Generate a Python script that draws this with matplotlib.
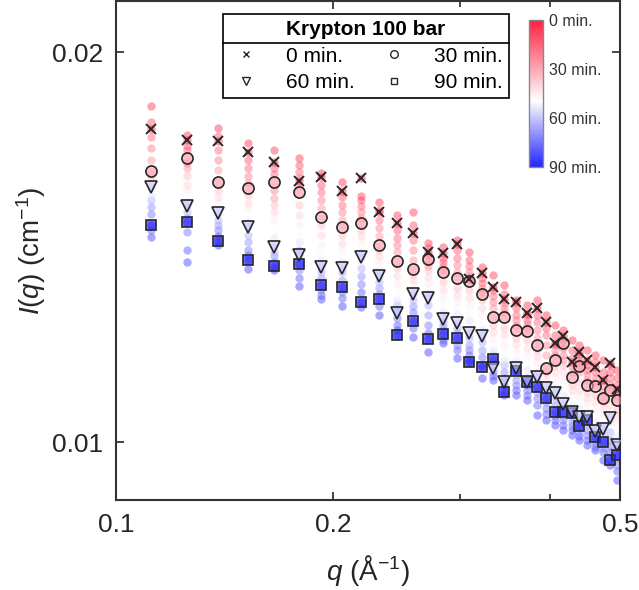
import numpy as np
import matplotlib
matplotlib.use('Agg')
import matplotlib.pyplot as plt
from matplotlib.colors import LinearSegmentedColormap, Normalize
from matplotlib.lines import Line2D
from matplotlib.ticker import FixedLocator, FixedFormatter, NullFormatter, NullLocator

plt.rcParams['font.family'] = 'Liberation Sans'
plt.rcParams['mathtext.fontset'] = 'custom'
plt.rcParams['mathtext.rm'] = 'Liberation Sans'
plt.rcParams['mathtext.it'] = 'Liberation Sans:italic'

#==========================================================
# data (I in units of 1e-4 cm^-1)
#==========================================================
q = [0.1117, 0.1253, 0.1385, 0.1523, 0.1656, 0.1794, 0.1925, 0.2058,
     0.2187, 0.2316, 0.2451, 0.2579, 0.2706, 0.2838, 0.2968, 0.3090,
     0.3215, 0.3336, 0.3456, 0.3584, 0.3712, 0.3832, 0.3944, 0.4063,
     0.4168, 0.4286, 0.4391, 0.4504, 0.4617, 0.4736, 0.4843, 0.4948]

i_0min = [174.4, 171.0, 170.7, 167.4, 164.5, 159.0, 160.2, 156.2, 159.9, 150.5, 147.6,
          145.0, 140.2, 139.9, 142.2, 133.6, 135.1, 131.7, 129.0, 128.3, 125.8, 126.9,
          123.8, 119.3, 120.8, 115.3, 117.4, 115.7, 114.3, 111.7, 115.1, 109.9]
i_30min = [161.9, 165.7, 158.8, 157.1, 158.8, 156.0, 149.2, 146.6, 147.6, 142.0, 138.0,
           136.0, 138.5, 135.3, 133.9, 133.2, 130.1, 124.9, 124.9, 122.1, 121.8, 118.9,
           114.1, 115.7, 119.3, 112.3, 114.5, 110.7, 110.5, 108.2, 109.7, 107.8]
i_60min = [157.3, 152.1, 150.2, 146.6, 141.4, 139.5, 136.5, 136.3, 139.0, 134.3, 125.8,
           130.1, 129.2, 124.5, 123.6, 121.4, 120.8, 114.1, 111.3, 114.1, 111.3, 112.3,
           110.1, 109.1, 107.0, 105.5, 104.6, 104.6, 102.0, 102.4, 104.4, 99.5]
i_90min = [147.1, 147.9, 143.0, 138.2, 136.8, 137.2, 132.2, 131.7, 128.3, 129.0, 121.0,
           124.0, 120.1, 121.2, 120.3, 115.3, 114.3, 115.9, 109.3, 113.5, 111.3, 110.3,
           108.2, 105.5, 105.5, 105.3, 102.9, 104.0, 100.9, 100.0, 96.9, 97.8]

# the other time steps (faded dots)
t_mid = [5, 10, 15, 20, 25, 35, 40, 45, 50, 55, 65, 70, 75, 80, 85]
i_mid = [
    [181.7, 172.6, 174.7, 170.1, 168.0, 165.7, 161.3, 158.8, 154.9, 153.2, 149.7, 150.5, 142.5, 141.4, 143.2, 140.2,
     136.5, 134.6, 132.2, 128.7, 127.6, 128.7, 125.4, 123.2, 122.1, 119.9, 118.9, 117.8, 116.8, 115.7, 114.7, 113.7],
    [176.6, 169.2, 172.3, 165.1, 162.8, 163.6, 157.9, 154.6, 153.8, 151.1, 145.8, 147.1, 141.2, 138.7, 140.7, 138.2,
     133.9, 131.1, 130.1, 126.9, 125.4, 125.4, 122.5, 121.0, 119.9, 117.8, 116.8, 114.7, 115.3, 113.3, 113.3, 112.1],
    [172.0, 168.0, 168.0, 162.8, 161.0, 161.6, 156.0, 152.4, 152.1, 148.4, 143.7, 143.2, 139.5, 137.7, 138.7, 136.8,
     132.7, 129.7, 128.1, 125.4, 124.3, 123.8, 121.0, 118.9, 118.2, 116.1, 115.7, 113.7, 113.3, 111.7, 112.1, 110.7],
    [168.6, 164.2, 165.1, 160.5, 156.5, 159.9, 153.8, 150.5, 150.5, 146.3, 142.0, 140.7, 137.7, 136.8, 137.0, 135.3,
     131.5, 128.3, 126.9, 124.3, 123.4, 122.1, 118.9, 117.8, 116.8, 114.5, 114.7, 112.7, 112.1, 110.5, 110.9, 109.3],
    [165.1, 162.8, 162.2, 158.5, 154.3, 157.6, 151.6, 148.4, 148.9, 144.2, 140.2, 138.2, 136.8, 135.8, 135.3, 134.3,
     130.6, 126.9, 126.0, 123.2, 122.5, 120.3, 116.8, 116.8, 115.7, 113.3, 113.3, 111.7, 111.3, 109.3, 110.1, 108.6],
    [160.7, 160.5, 156.5, 155.1, 152.4, 152.4, 147.1, 144.5, 145.8, 140.7, 136.3, 134.6, 135.8, 132.9, 131.5, 131.1,
     128.7, 123.2, 122.5, 120.3, 119.9, 117.8, 113.3, 114.5, 114.7, 110.7, 111.3, 109.3, 108.8, 107.4, 108.2, 105.9],
    [159.6, 157.9, 154.6, 153.0, 150.5, 149.7, 144.5, 142.5, 144.2, 139.2, 134.3, 133.4, 134.1, 131.1, 129.9, 129.2,
     126.9, 121.6, 121.0, 119.1, 118.2, 116.6, 112.5, 113.3, 113.3, 109.7, 109.7, 108.2, 107.4, 106.3, 106.8, 104.8],
    [158.5, 156.5, 153.0, 151.6, 148.4, 147.1, 142.0, 140.7, 142.7, 137.7, 132.4, 132.4, 132.7, 129.2, 128.3, 127.4,
     125.4, 120.3, 118.9, 117.8, 116.8, 115.3, 111.7, 112.1, 111.7, 108.8, 108.6, 107.2, 105.9, 105.1, 105.9, 103.7],
    [156.5, 154.6, 151.6, 149.7, 145.8, 144.5, 140.2, 139.5, 141.2, 136.8, 130.6, 131.5, 131.5, 127.6, 126.9, 125.6,
     123.8, 119.1, 117.4, 116.8, 115.3, 114.5, 111.1, 111.1, 110.1, 107.8, 107.4, 106.3, 104.8, 104.0, 105.0, 102.2],
    [154.9, 153.2, 151.1, 147.9, 143.7, 142.7, 138.2, 137.7, 140.2, 135.8, 128.7, 130.8, 130.6, 126.0, 125.6, 124.3,
     122.1, 117.8, 115.7, 115.7, 113.7, 113.3, 110.7, 110.1, 108.8, 106.8, 106.3, 105.5, 103.7, 103.1, 103.7, 101.1],
    [153.8, 150.5, 148.4, 144.5, 140.2, 140.7, 135.3, 135.3, 136.3, 132.9, 127.6, 128.7, 127.6, 123.8, 122.5, 120.3,
     119.5, 116.8, 114.7, 112.7, 112.1, 111.3, 109.3, 108.2, 106.3, 104.4, 104.0, 103.1, 102.6, 101.3, 101.8, 99.0],
    [151.9, 148.9, 147.1, 142.7, 139.2, 137.7, 133.9, 133.4, 134.3, 131.5, 126.5, 127.4, 125.4, 122.9, 121.4, 118.9,
     117.8, 114.9, 113.3, 111.7, 110.5, 109.3, 107.4, 106.8, 104.8, 103.7, 102.6, 102.2, 100.4, 100.4, 100.4, 97.2],
    [150.0, 145.3, 145.8, 140.7, 137.7, 135.8, 131.1, 130.6, 132.4, 130.1, 124.7, 126.0, 123.2, 122.1, 118.9, 117.8,
     116.4, 113.3, 112.1, 110.7, 109.7, 108.2, 106.3, 104.8, 104.0, 102.9, 101.8, 101.3, 99.9, 99.0, 99.3, 96.0],
    [145.8, 140.7, 144.2, 139.5, 136.3, 133.9, 129.9, 129.2, 130.6, 127.4, 123.2, 122.5, 121.4, 119.9, 117.8, 116.8,
     114.7, 112.5, 110.5, 109.7, 108.8, 106.8, 105.1, 104.0, 103.1, 102.2, 101.1, 100.4, 99.2, 98.3, 98.3, 94.9],
    [144.0, 137.7, 142.0, 136.0, 135.8, 132.0, 129.0, 127.4, 127.2, 125.4, 122.1, 120.6, 117.4, 119.3, 116.1, 115.7,
     112.1, 111.7, 108.8, 108.8, 107.8, 105.0, 104.0, 103.1, 102.2, 101.3, 100.4, 99.5, 98.6, 96.9, 96.0, 93.5],
]

marker_times = [0, 30, 60, 90]
marker_labels = ['0 min.', '30 min.', '60 min.', '90 min.']
cbar_labels = ['0 min.', '30 min.', '60 min.', '90 min.']
leg_title = 'Krypton 100 bar'

#==========================================================
# plot
#==========================================================
sc = 1e-4
cmap = LinearSegmentedColormap.from_list('rwb', [(0.0, '#ff2040'), (0.55, '#ffffff'), (1.0, '#2424ff')])
norm = Normalize(0, 90)
ink = '#262626'

fig = plt.figure(figsize=(6.39, 5.90), dpi=100)
ax = fig.add_axes([0.1815, 0.1525, 0.7888, 0.8458])

# faded dots for every time step
all_t = marker_times + t_mid
all_i = [i_0min, i_30min, i_60min, i_90min] + i_mid
order = np.argsort(all_t)[::-1]
for k in order:
    ax.scatter(q, np.array(all_i[k]) * sc, s=36, color=cmap(norm(all_t[k])),
               alpha=0.45, linewidths=0, zorder=2)

# highlighted time steps
def face(t, a=0.55):
    c = cmap(norm(t))
    return (c[0], c[1], c[2], a)

ax.plot(q, np.array(i_0min) * sc, 'x', color=ink, ms=7, mew=1.4, zorder=5)
ax.plot(q, np.array(i_30min) * sc, 'o', mfc=face(30), mec=ink, ms=8, mew=1.2, zorder=4)
ax.plot(q, np.array(i_90min) * sc, 's', mfc=face(90, 0.65), mec=ink, ms=7, mew=1.2, zorder=3)
ax.plot(q, np.array(i_60min) * sc, 'v', mfc=face(60), mec=ink, ms=8.5, mew=1.2, zorder=4)

ax.set_xscale('log')
ax.set_yscale('log')
ax.set_xlim(0.1, 0.5)
ax.set_ylim(0.00902, 0.0219)

ax.xaxis.set_major_locator(FixedLocator([0.1, 0.2, 0.5]))
ax.xaxis.set_major_formatter(FixedFormatter(['0.1', '0.2', '0.5']))
ax.xaxis.set_minor_locator(FixedLocator([0.3, 0.4]))
ax.xaxis.set_minor_formatter(NullFormatter())
ax.yaxis.set_major_locator(FixedLocator([0.01, 0.02]))
ax.yaxis.set_major_formatter(FixedFormatter(['0.01', '0.02']))
ax.yaxis.set_minor_locator(NullLocator())

ax.tick_params(which='both', direction='in', top=True, right=True, width=1.2, color=ink,
               labelcolor=ink, labelsize=19)
ax.tick_params(which='major', length=6, pad=9)
ax.tick_params(which='minor', length=4)
for s in ax.spines.values():
    s.set_linewidth(1.5)
    s.set_color('#333333')

ax.set_xlabel(r'$q$ (Å$^{-1}$)', fontsize=20, color=ink, labelpad=12)
ax.set_ylabel(r'$I(q)$ (cm$^{-1}$)', fontsize=20, color=ink, labelpad=3)

# legend
hx = Line2D([], [], marker='x', ls='none', color=ink, ms=5, mew=1.0)
ho = Line2D([], [], marker='o', ls='none', mfc='none', mec=ink, ms=5.5, mew=1.0)
hv = Line2D([], [], marker='v', ls='none', mfc='none', mec=ink, ms=6, mew=1.0)
hs = Line2D([], [], marker='s', ls='none', mfc='none', mec=ink, ms=5, mew=1.0)
leg = ax.legend([hx, hv, ho, hs], [marker_labels[0], marker_labels[2], marker_labels[1], marker_labels[3]],
                ncol=2, title=leg_title, title_fontproperties={'weight': 'bold', 'size': 15},
                fontsize=15, loc='upper left', bbox_to_anchor=(0.212, 0.974), borderaxespad=0,
                fancybox=False, framealpha=1, edgecolor='black', borderpad=0.3,
                labelspacing=0.35, handlelength=1.6, handletextpad=1.15, columnspacing=1.05)
leg.get_frame().set_linewidth(1.2)
leg.set_zorder(10)

# colorbar
cax = fig.add_axes([529 / 639, (590 - 167) / 590, 14 / 639, 147 / 590])
sm = plt.cm.ScalarMappable(norm=norm, cmap=cmap)
cb = fig.colorbar(sm, cax=cax, ticks=marker_times)
cb.ax.invert_yaxis()
cb.ax.set_yticklabels(cbar_labels)
cb.ax.tick_params(length=0, pad=4, labelsize=11.5, labelcolor='#333333')
cb.outline.set_edgecolor('#888888')
cb.outline.set_linewidth(1.0)

# separator line under the legend title
fig.canvas.draw()
r = fig.canvas.get_renderer()
tb = leg.get_title().get_window_extent(r)
eb = leg.get_texts()[0].get_window_extent(r)
fb = leg.get_frame().get_window_extent(r)
y_sep = (tb.y0 + eb.y1) / 2
inv = fig.transFigure.inverted()
(x0, y0), (x1, _) = inv.transform([(fb.x0, y_sep), (fb.x1, y_sep)])
fig.add_artist(Line2D([x0, x1], [y0, y0], transform=fig.transFigure, color='black', lw=1.2, zorder=11))

fig.savefig('out.png', dpi=100, facecolor='white')
plt.close()
